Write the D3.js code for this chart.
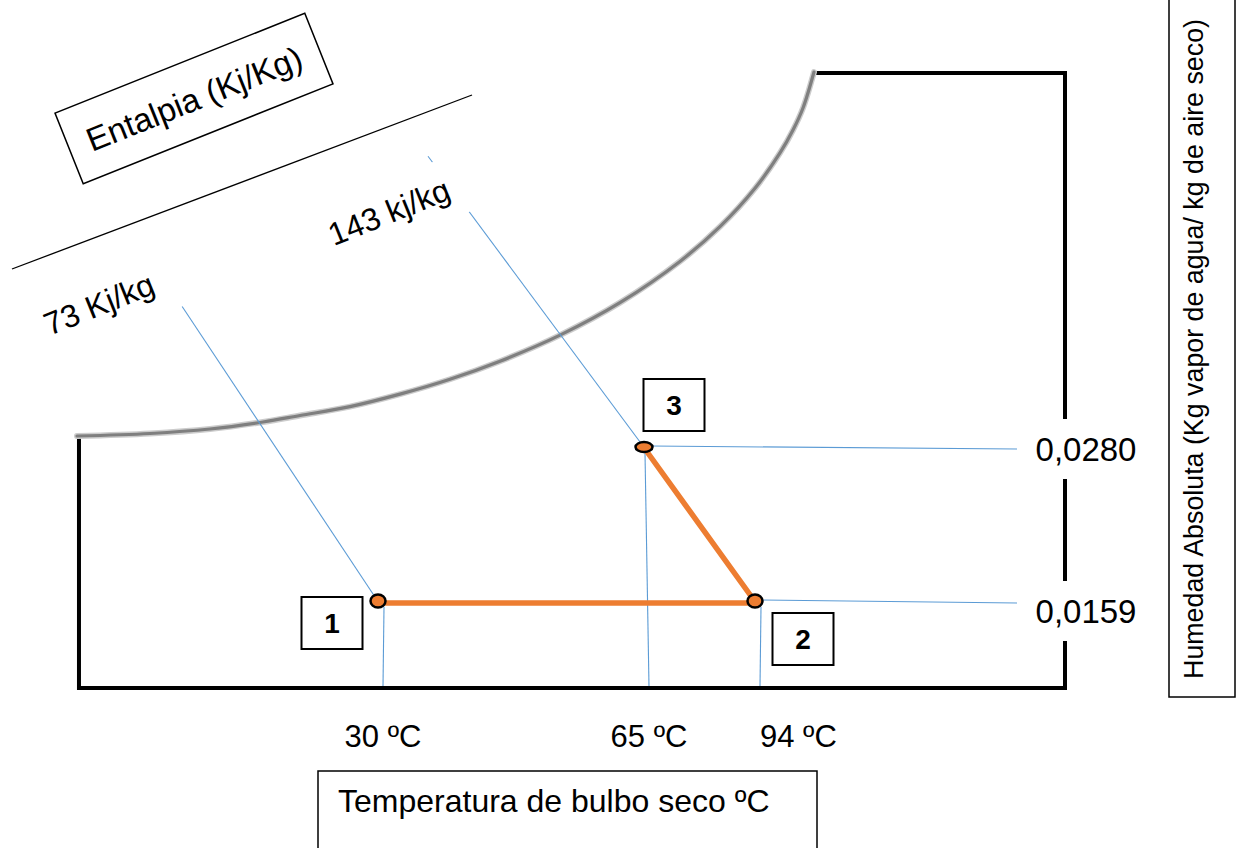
<!DOCTYPE html>
<html><head><meta charset="utf-8">
<script src="https://cdn.jsdelivr.net/npm/d3@7"></script>
<style>html,body{margin:0;padding:0;background:#fff;} svg{display:block;} text{font-family:"Liberation Sans",Arial,sans-serif;fill:#000;}</style>
</head><body>
<svg id="chart" width="1243" height="848"></svg>
<script>
// ---------- data ----------
const tempTicks = [30, 65, 94];
const tempTickLabels = ["30 ºC", "65 ºC", "94 ºC"];
const humTicks = [0.0280, 0.0159];
const humTickLabels = ["0,0280", "0,0159"];
const stateNames = ["1", "2", "3"];
const stateTemp = [30, 94, 65];
const stateHum = [0.0159, 0.0159, 0.0280];
const enthalpyLabels = ["73 Kj/kg", "143 kj/kg"];
const enthalpyStateIdx = [0, 2];
const enthalpyEndTemp = [4.1, 36.45];
const enthalpyEndHum = [0.0392, 0.0510];
const satTemp = [-9.74, -0.13, 7.76, 14.74, 19.61, 26.18, 32.76, 39.34, 45.92, 53.82, 61.71, 74.14, 84.59, 93.74, 100.27, 103.67, 106.28, 109.15];
const satHum = [0.02902, 0.02922, 0.02957, 0.03012, 0.03063, 0.03133, 0.03231, 0.03348, 0.03490, 0.03695, 0.03950, 0.04274, 0.04547, 0.04848, 0.05126, 0.05306, 0.05479, 0.05762];
const xTitle = "Temperatura de bulbo seco ºC";
const yTitle = "Humedad Absoluta (Kg vapor de agua/ kg de aire seco)";
const enthalpyTitle = "Entalpia (Kj/Kg)";

// ---------- layout ----------
const frameBottom = 688, frameRight = 1065, frameTop = 73;
const blue = "#5B9BD5", orange = "#ED7D31";

const svg = d3.select("#chart");
const x = d3.scaleLinear().domain(tempTicks).range([379, 645, 756]);
const y = d3.scaleLinear().domain([0.0159, 0.0280]).range([603, 449]);

const sat = satTemp.map((t, i) => [x(t), y(satHum[i])]);
const states = stateNames.map((n, i) => ({name: n, px: x(stateTemp[i]), py: y(stateHum[i])}));

// frame
const s0 = sat[0], sN = sat[sat.length - 1];
svg.append("path")
  .attr("d", `M${s0[0] + 2},${s0[1]} V${frameBottom} H${frameRight} V${frameTop} H${sN[0]}`)
  .attr("fill", "none").attr("stroke", "#000").attr("stroke-width", 4)
  .attr("stroke-linejoin", "miter");

// saturation curve
const line = d3.line().curve(d3.curveCatmullRom.alpha(0.5));
svg.append("path").attr("d", line(sat)).attr("fill", "none")
  .attr("stroke", "#cccccc").attr("stroke-width", 6).attr("stroke-linecap", "round");
svg.append("path").attr("d", line(sat)).attr("fill", "none")
  .attr("stroke", "#7f7f7f").attr("stroke-width", 3.2).attr("stroke-linecap", "round");

// reference lines
const gBlue = svg.append("g").attr("stroke", blue).attr("stroke-width", 1.1).attr("fill", "none");
states.forEach((s, i) => {
  const topDx = i === 2 ? 0 : 5;
  gBlue.append("line").attr("x1", s.px + topDx).attr("y1", s.py + 4)
    .attr("x2", s.px + 4).attr("y2", frameBottom - 2);
});
const humLineEnd = 1017;
[states[2], states[1]].forEach(s => {
  gBlue.append("line").attr("x1", s.px + 6).attr("y1", s.py - 3)
    .attr("x2", humLineEnd).attr("y2", s.py);
});
enthalpyStateIdx.forEach((si, i) => {
  const s = states[si];
  gBlue.append("line").attr("x1", s.px - 2).attr("y1", s.py - 3)
    .attr("x2", x(enthalpyEndTemp[i])).attr("y2", y(enthalpyEndHum[i]));
});

// enthalpy labels (white text boxes)
const enthalpyLabelPos = [[99, 304], [389, 212]];
enthalpyLabels.forEach((lab, i) => {
  const g = svg.append("g").attr("transform", `translate(${enthalpyLabelPos[i][0]},${enthalpyLabelPos[i][1]}) rotate(-22)`);
  g.append("rect").attr("x", -82).attr("y", -30).attr("width", 164).attr("height", 60).attr("fill", "#fff");
  g.append("text").attr("text-anchor", "middle").attr("dy", "0.35em")
    .style("font-size", "32px").text(lab);
});

// process lines
svg.append("path")
  .attr("d", d3.line()(states.map(s => [s.px, s.py])))
  .attr("fill", "none").attr("stroke", orange).attr("stroke-width", 5.5)
  .attr("stroke-linejoin", "round");
const markerR = [[7.5, 6.5], [7.5, 6.5], [8.5, 5]];
states.forEach((s, i) => {
  svg.append("ellipse").attr("cx", s.px - 1).attr("cy", s.py - 2)
    .attr("rx", markerR[i][0]).attr("ry", markerR[i][1])
    .attr("fill", orange).attr("stroke", "#000").attr("stroke-width", 2.5);
});
const boxOffset = [[-47, 20], [47, 36], [29, -44]];
states.forEach((s, i) => {
  const cx = s.px + boxOffset[i][0], cy = s.py + boxOffset[i][1];
  svg.append("rect").attr("x", cx - 30.5).attr("y", cy - 26).attr("width", 61).attr("height", 52)
    .attr("fill", "#fff").attr("stroke", "#000").attr("stroke-width", 2);
  svg.append("text").attr("x", cx).attr("y", cy).attr("dy", "0.36em")
    .attr("text-anchor", "middle").style("font-size", "28px").style("font-weight", "bold")
    .text(s.name);
});

// temperature tick labels
tempTicks.forEach((t, i) => {
  const last = i === tempTicks.length - 1;
  svg.append("text")
    .attr("x", x(t) + 4)
    .attr("y", 747)
    .attr("text-anchor", last ? "start" : "middle")
    .style("font-size", "31px").text(tempTickLabels[i]);
});

// humidity tick labels (text boxes covering the frame)
humTicks.forEach((h, i) => {
  const cy = y(h) + (i === 0 ? 0 : 8);
  svg.append("rect").attr("x", 1027).attr("y", cy - 30).attr("width", 118).attr("height", 60).attr("fill", "#fff");
  svg.append("text").attr("x", 1086).attr("y", cy).attr("dy", "0.36em")
    .attr("text-anchor", "middle").style("font-size", "33px").text(humTickLabels[i]);
});

// x title box
svg.append("rect").attr("x", 318).attr("y", 771).attr("width", 499).attr("height", 100)
  .attr("fill", "#fff").attr("stroke", "#000").attr("stroke-width", 1.5);
svg.append("text").attr("x", 338).attr("y", 812).style("font-size", "32px").text(xTitle);

// y title box
svg.append("rect").attr("x", 1169).attr("y", -5).attr("width", 66).attr("height", 702)
  .attr("fill", "#fff").attr("stroke", "#000").attr("stroke-width", 1.5);
svg.append("text").attr("transform", "translate(1203,349) rotate(-90)")
  .attr("text-anchor", "middle").style("font-size", "26.8px").text(yTitle);

// enthalpy title + axis line
svg.append("line").attr("x1", 12).attr("y1", 269).attr("x2", 472).attr("y2", 95)
  .attr("stroke", "#000").attr("stroke-width", 1.3);
const gE = svg.append("g").attr("transform", "translate(194,98.5) rotate(-21.8)");
gE.append("rect").attr("x", -134.5).attr("y", -38).attr("width", 269).attr("height", 76)
  .attr("fill", "#fff").attr("stroke", "#000").attr("stroke-width", 1.5);
gE.append("text").attr("text-anchor", "middle").attr("dy", "0.36em")
  .style("font-size", "33px").text(enthalpyTitle);
</script>
</body></html>
